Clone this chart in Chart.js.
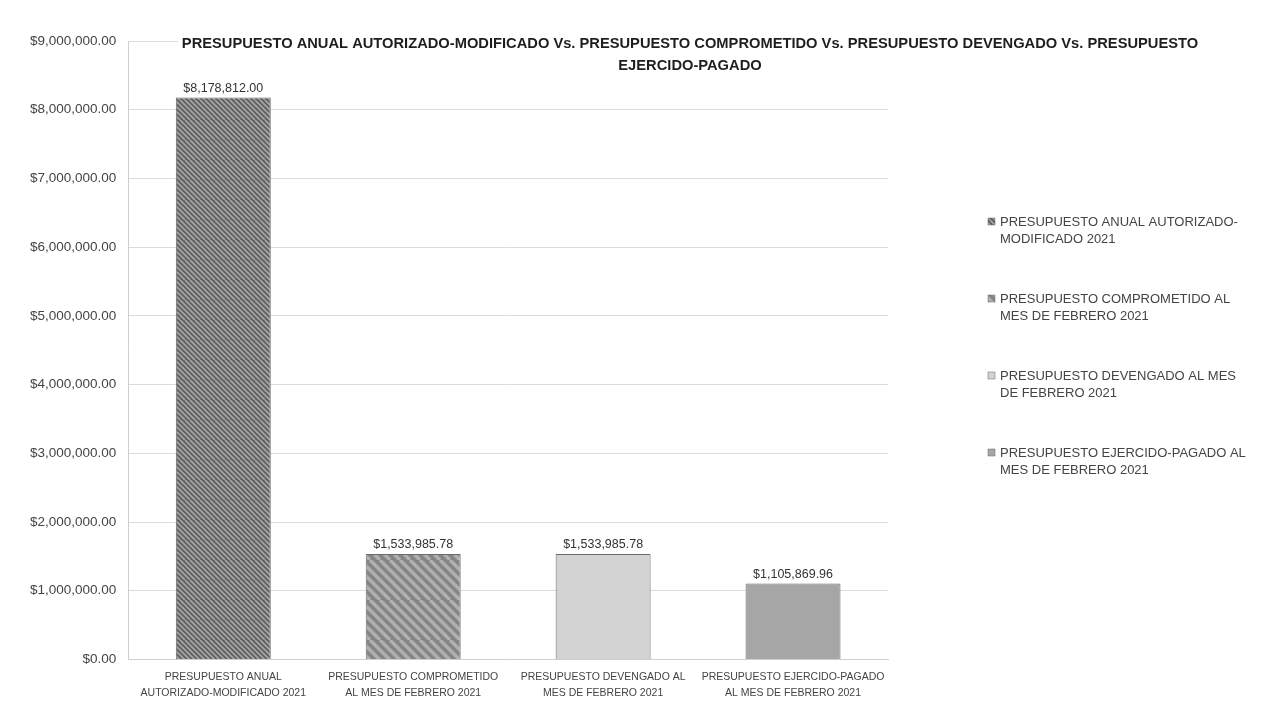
<!DOCTYPE html>
<html>
<head>
<meta charset="utf-8">
<script src="https://cdn.jsdelivr.net/npm/chart.js@4/dist/chart.umd.min.js"></script>
<style>
    html, body { margin: 0; padding: 0; background: #fff; }
    #wrap { width: 1264px; height: 702px; position: relative; }
</style>
</head>
<body>
<div id="wrap"><canvas id="chart-canvas"></canvas></div>
<script>
// chart data
const categories = [
    ['PRESUPUESTO ANUAL', 'AUTORIZADO-MODIFICADO 2021'],
    ['PRESUPUESTO COMPROMETIDO', 'AL MES DE FEBRERO 2021'],
    ['PRESUPUESTO DEVENGADO AL', 'MES DE FEBRERO 2021'],
    ['PRESUPUESTO EJERCIDO-PAGADO', 'AL MES DE FEBRERO 2021'],
]
const budget_values = [8178812.00, 1533985.78, 1533985.78, 1105869.96]
const legend_labels = [
    ['PRESUPUESTO ANUAL AUTORIZADO-', 'MODIFICADO 2021'],
    ['PRESUPUESTO COMPROMETIDO AL', 'MES DE FEBRERO 2021'],
    ['PRESUPUESTO DEVENGADO AL MES', 'DE FEBRERO 2021'],
    ['PRESUPUESTO EJERCIDO-PAGADO AL', 'MES DE FEBRERO 2021'],
]
const chart_title = [
    'PRESUPUESTO ANUAL AUTORIZADO-MODIFICADO Vs. PRESUPUESTO COMPROMETIDO Vs. PRESUPUESTO DEVENGADO Vs. PRESUPUESTO',
    'EJERCIDO-PAGADO',
]
const y_max = 9000000
const y_step = 1000000

const font_family = '"Liberation Sans", Arial, sans-serif'
const money = v => '$' + v.toLocaleString('en-US', {minimumFractionDigits: 2, maximumFractionDigits: 2})

// striped fills like the excel hatch patterns ("\" direction)
const make_stripes = (bg, fg, gap, width) => {
    const size = gap * 4
    const c = document.createElement('canvas')
    c.width = size
    c.height = size
    const ctx = c.getContext('2d')
    ctx.fillStyle = bg
    ctx.fillRect(0, 0, size, size)
    ctx.strokeStyle = fg
    ctx.lineWidth = width
    ctx.beginPath()
    for (let x0 = -size; x0 <= size; x0 += gap) {
        ctx.moveTo(x0, 0)
        ctx.lineTo(x0 + size, size)
    }
    ctx.stroke()
    return ctx.createPattern(c, 'repeat')
}

const bar_fills = [
    make_stripes('#5e5e5e', '#a4a4a4', 5, 1.8),
    make_stripes('#858585', '#b0b0b0', 10, 3.5),
    '#d3d3d3',
    '#a6a6a6',
]

// title, legend and value labels drawn on top
const overlay_plugin = {
    id: 'overlay',
    afterDatasetsDraw(chart) {
        const ctx = chart.ctx
        const area = chart.chartArea
        ctx.save()

        // value labels
        const meta = chart.getDatasetMeta(0)
        ctx.font = `12.5px ${font_family}`
        ctx.fillStyle = '#333'
        ctx.textAlign = 'center'
        ctx.textBaseline = 'bottom'
        meta.data.forEach((bar, i) => {
            ctx.fillText(money(budget_values[i]), bar.x, bar.y - 3)
        })

        // title
        ctx.font = `bold 14.7px ${font_family}`
        ctx.textBaseline = 'middle'
        const title_x = 690
        chart_title.forEach((line, i) => {
            const w = ctx.measureText(line).width
            ctx.fillStyle = '#fff'
            ctx.fillRect(title_x - w / 2 - 4, 34 + i * 22, w + 8, 20)
            ctx.fillStyle = '#1e1e1e'
            ctx.fillText(line, title_x, 44 + i * 22)
        })

        // legend
        ctx.font = `13px ${font_family}`
        ctx.textAlign = 'left'
        const lx = area.right + 100
        legend_labels.forEach((lines, i) => {
            const ly = 222 + i * 77
            ctx.fillStyle = bar_fills[i]
            ctx.fillRect(lx, ly - 4, 7, 7)
            ctx.strokeStyle = '#6a6a6a'
            ctx.lineWidth = 0.5
            ctx.strokeRect(lx, ly - 4, 7, 7)
            ctx.fillStyle = '#444'
            lines.forEach((t, j) => ctx.fillText(t, lx + 12, ly + j * 17))
        })
        ctx.restore()
    }
}

const chart_canvas = document.getElementById('chart-canvas')
const chart = new Chart(chart_canvas, {
    type: 'bar',
    data: {
        labels: categories,
        datasets: [{
            label: 'Presupuesto',
            data: budget_values,
            backgroundColor: bar_fills,
            borderColor: '#6a6a6a',
            borderWidth: 1,
            barPercentage: 0.5,
            categoryPercentage: 1,
        }]
    },
    options: {
        responsive: true,
        maintainAspectRatio: false,
        animation: false,
        layout: {
            padding: {left: 18, right: 376, top: 41, bottom: -9}
        },
        plugins: {
            legend: {display: false},
            title: {display: false},
            tooltip: {enabled: false},
        },
        scales: {
            x: {
                grid: {display: false, drawTicks: false},
                border: {display: true, color: '#cfcfcf'},
                ticks: {
                    color: '#444',
                    padding: 10,
                    maxRotation: 0,
                    autoSkip: false,
                    font: {family: font_family, size: 10.5, lineHeight: 1.5},
                },
            },
            y: {
                min: 0,
                max: y_max,
                grid: {color: '#dcdcdc', drawTicks: false},
                border: {display: true, color: '#cfcfcf'},
                ticks: {
                    stepSize: y_step,
                    color: '#444',
                    padding: 12,
                    font: {family: font_family, size: 13.5},
                    callback: v => money(v),
                },
            },
        },
    },
    plugins: [overlay_plugin],
})
</script>
</body>
</html>
